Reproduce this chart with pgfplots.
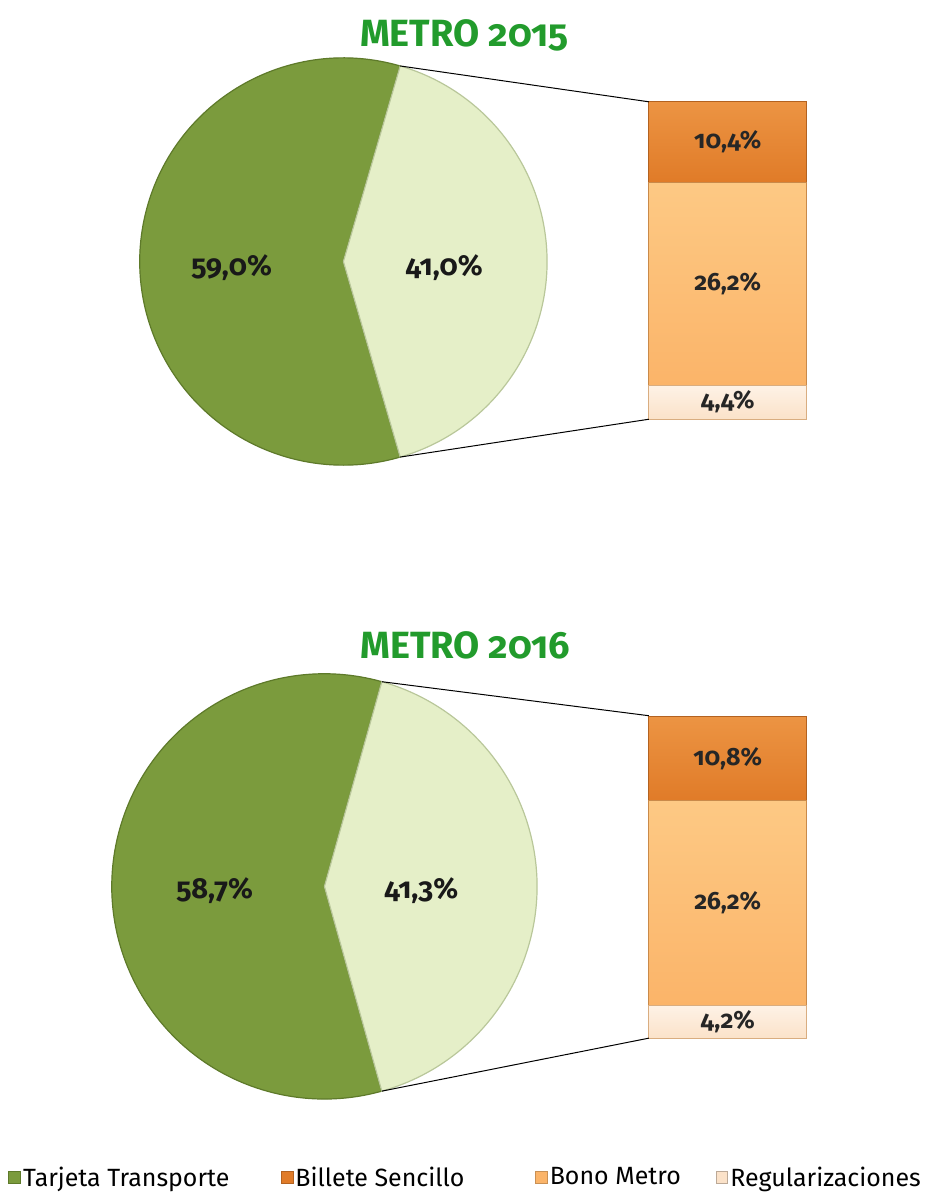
\documentclass[border=0pt]{standalone}
\usepackage{pgfplots}
\pgfplotsset{compat=1.18}
\usepackage{fontspec}
\setmainfont{Fira Sans}[Numbers=OldStyle]
\usetikzlibrary{calc}

\definecolor{tgreen}{HTML}{7B9B3D}
\definecolor{tgreenD}{HTML}{5E7A2A}
\definecolor{lgreen}{HTML}{E5EFC8}
\definecolor{lgreenD}{HTML}{B9C79A}
\definecolor{ttitle}{HTML}{229B2C}
\definecolor{billete}{HTML}{E07B28}
\definecolor{billeteT}{HTML}{EC9443}
\definecolor{bono}{HTML}{FBB469}
\definecolor{bonoT}{HTML}{FDC984}
\definecolor{regu}{HTML}{FBE2C9}
\definecolor{reguT}{HTML}{FEF2E6}
\definecolor{bardraw}{HTML}{C98A4A}

% values (percent)
\def\TarjetaA{59.0}\def\ResA{41.0}\def\BilleteA{10.4}\def\BonoA{26.2}\def\RegA{4.4}
\def\TarjetaB{58.7}\def\ResB{41.3}\def\BilleteB{10.8}\def\BonoB{26.2}\def\RegB{4.2}

\pgfmathsetmacro\haA{\ResA*1.8}
\pgfmathsetmacro\haB{\ResB*1.8}
\pgfmathsetmacro\lRegA{\RegA/2}
\pgfmathsetmacro\lBonoA{\RegA+\BonoA/2}
\pgfmathsetmacro\lBilA{\RegA+\BonoA+\BilleteA/2}
\pgfmathsetmacro\lRegB{\RegB/2}
\pgfmathsetmacro\lBonoB{\RegB+\BonoB/2}
\pgfmathsetmacro\lBilB{\RegB+\BonoB+\BilleteB/2}

\tikzset{pielab/.style={font=\fontsize{14.5}{16}\selectfont\bfseries, text=black!90},
  barlab/.style={font=\fontsize{12.5}{14}\selectfont\bfseries, text=black!85},
  ttl/.style={font=\fontsize{19}{22}\selectfont\bfseries, text=ttitle}}

\begin{document}
\begin{tikzpicture}
% frame axis in pixel units of the reference (y upwards)
\begin{axis}[name=frame, hide axis, scale only axis, width=464.5pt, height=596.5pt,
  xmin=0, xmax=929, ymin=0, ymax=1193, clip=false,
  legend columns=4,
  legend image code/.code={\path[#1] (0pt,-3pt) rectangle (6pt,3pt);},
  legend style={at={(0.0086,0.011)}, anchor=west, draw=none, fill=none,
    font=\fontsize{12.5}{15}\selectfont, inner sep=0pt, nodes={inner xsep=1pt},
    /tikz/every even column/.append style={column sep=0pt}}]
\path (axis cs:0,0) rectangle (axis cs:929,1193);
\addlegendimage{draw=tgreenD, fill=tgreen}\addlegendentry{\makebox[128pt][l]{Tarjeta Transporte}}
\addlegendimage{draw=billete!80!black, fill=billete}\addlegendentry{\makebox[119pt][l]{Billete Sencillo}}
\addlegendimage{draw=bono!80!black, fill=bono}\addlegendentry{\makebox[82pt][l]{Bono Metro}}
\addlegendimage{draw=regu!75!black, fill=regu}\addlegendentry{Regularizaciones}

% ---- 2015
\node[ttl] at (axis cs:465,1158) {METRO 2015};
\fill[tgreen, draw=tgreenD, line width=0.6pt] (axis cs:344,931) -- ++(\haA:102pt)
  arc[start angle=\haA, end angle=360-\haA, radius=102pt] -- cycle;
\fill[lgreen, draw=lgreenD, line width=0.6pt] (axis cs:344,931) -- ++(-\haA:102pt)
  arc[start angle=-\haA, end angle=\haA, radius=102pt] -- cycle;
\coordinate (pA1) at ($(axis cs:344,931)+(\haA:102pt)$);
\coordinate (pA2) at ($(axis cs:344,931)+(-\haA:102pt)$);
\node[pielab] at (axis cs:232,925) {59,0\%};
\node[pielab] at (axis cs:445,925) {41,0\%};
\coordinate (bA) at (axis cs:650,773);

% ---- 2016
\node[ttl] at (axis cs:466,546) {METRO 2016};
\fill[tgreen, draw=tgreenD, line width=0.6pt] (axis cs:325,305) -- ++(\haB:106.5pt)
  arc[start angle=\haB, end angle=360-\haB, radius=106.5pt] -- cycle;
\fill[lgreen, draw=lgreenD, line width=0.6pt] (axis cs:325,305) -- ++(-\haB:106.5pt)
  arc[start angle=-\haB, end angle=\haB, radius=106.5pt] -- cycle;
\coordinate (pB1) at ($(axis cs:325,305)+(\haB:106.5pt)$);
\coordinate (pB2) at ($(axis cs:325,305)+(-\haB:106.5pt)$);
\node[pielab] at (axis cs:215,301) {58,7\%};
\node[pielab] at (axis cs:422,301) {41,3\%};
\coordinate (bB) at (axis cs:650,153);
\end{axis}

% ---- bar 2015
\begin{axis}[name=barA, at={(bA)}, anchor=south west, scale only axis, hide axis,
  width=79pt, height=159pt, xmin=-0.5, xmax=0.5, ymin=0, ymax=\ResA,
  ybar stacked, bar width=79pt, clip=false]
\addplot[draw=bardraw!70, top color=reguT, bottom color=regu] coordinates {(0,\RegA)};
\addplot[draw=bardraw, top color=bonoT, bottom color=bono] coordinates {(0,\BonoA)};
\addplot[draw=billete!80!black, top color=billeteT, bottom color=billete] coordinates {(0,\BilleteA)};
\coordinate (rA) at (axis cs:0,\lRegA);
\coordinate (oA) at (axis cs:0,\lBonoA);
\coordinate (sA) at (axis cs:0,\lBilA);
\end{axis}
\node[barlab] at (rA) {4,4\%};
\node[barlab] at (oA) {26,2\%};
\node[barlab] at (sA) {10,4\%};

% ---- bar 2016
\begin{axis}[name=barB, at={(bB)}, anchor=south west, scale only axis, hide axis,
  width=79pt, height=161.5pt, xmin=-0.5, xmax=0.5, ymin=0, ymax=\ResB,
  ybar stacked, bar width=79pt, clip=false]
\addplot[draw=bardraw!70, top color=reguT, bottom color=regu] coordinates {(0,\RegB)};
\addplot[draw=bardraw, top color=bonoT, bottom color=bono] coordinates {(0,\BonoB)};
\addplot[draw=billete!80!black, top color=billeteT, bottom color=billete] coordinates {(0,\BilleteB)};
\coordinate (rB) at (axis cs:0,\lRegB);
\coordinate (oB) at (axis cs:0,\lBonoB);
\coordinate (sB) at (axis cs:0,\lBilB);
\end{axis}
\node[barlab] at (rB) {4,2\%};
\node[barlab] at (oB) {26,2\%};
\node[barlab] at (sB) {10,8\%};

\draw[black, line width=0.5pt] (pA1) -- (barA.north west);
\draw[black, line width=0.5pt] (pA2) -- (barA.south west);
\draw[black, line width=0.5pt] (pB1) -- (barB.north west);
\draw[black, line width=0.5pt] (pB2) -- (barB.south west);
\end{tikzpicture}
\end{document}
